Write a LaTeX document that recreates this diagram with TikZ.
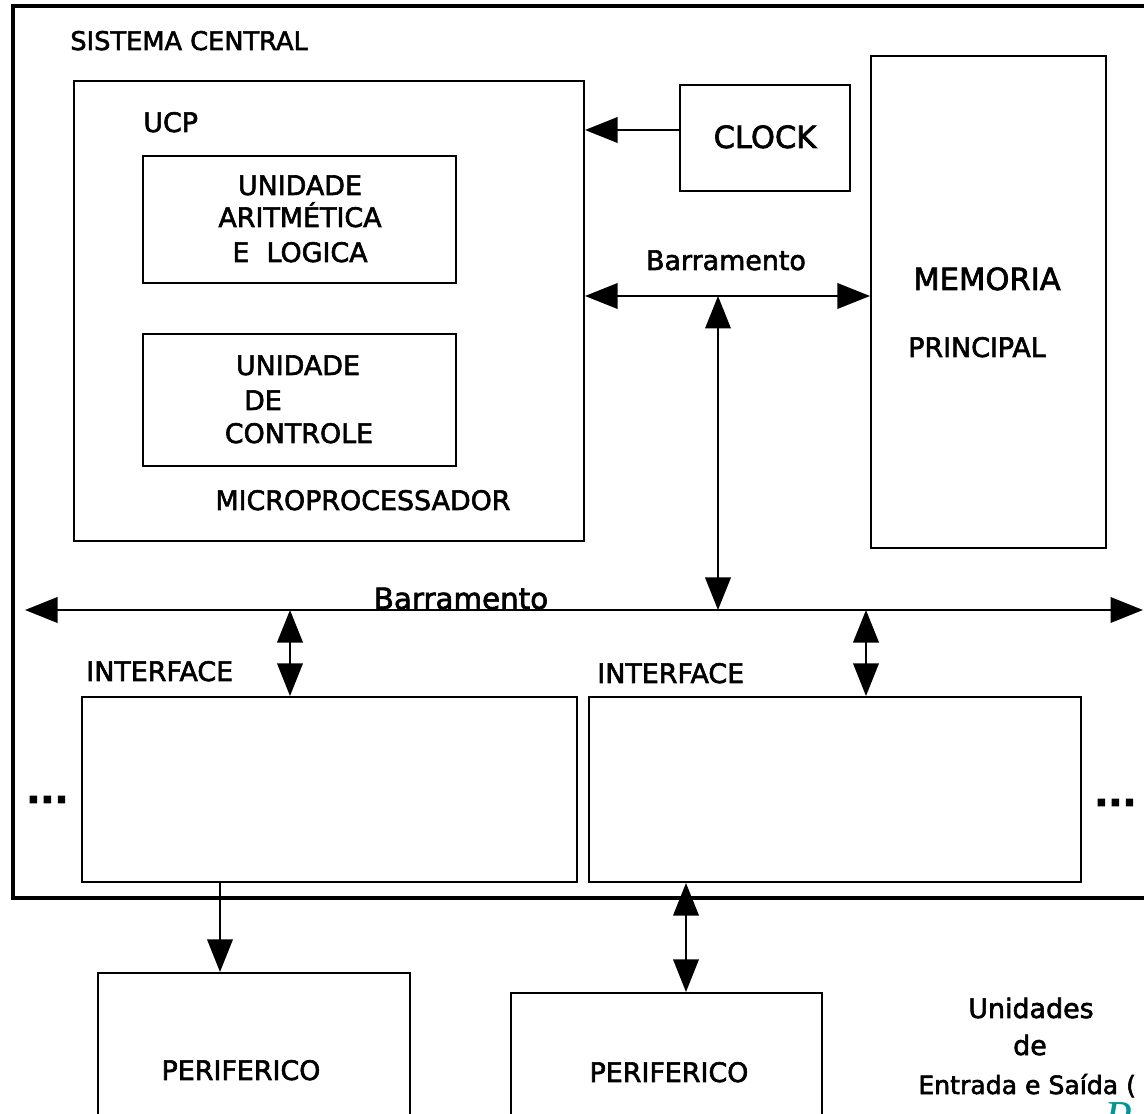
\documentclass[tikz,border=0pt]{standalone}
\usepackage{fontspec}
\setmainfont{DejaVu Sans}[FakeBold=2.2]
\newfontfamily\serifitalic{Liberation Serif}
\usetikzlibrary{arrows.meta,fit}
\definecolor{signteal}{RGB}{0,150,150}
\begin{document}
\begin{tikzpicture}[x=0.02cm,y=-0.02cm,
  box/.style={draw,line width=1.2pt,inner sep=0pt},
  lbl/.style={anchor=base,inner sep=0pt,font=\fontsize{15.3pt}{18pt}\selectfont},
  lblw/.style={lbl,anchor=base west},
  big/.style={lbl,font=\fontsize{17.4pt}{20pt}\selectfont},
  wire/.style={line width=1.2pt},
  dots/.style={anchor=base west,inner sep=0pt,font=\bfseries\fontsize{21pt}{21pt}\selectfont},
  >={Triangle[length=18.5pt,width=14.5pt]}]
\clip (0,0) rectangle (1144,1114);
\fill[white] (0,0) rectangle (1144,1114);

% central system frame (its right side runs off the page)
\node[draw,line width=2.4pt,inner sep=0pt,fit={(13,6) (1200,898)}] (sys) {};
\node[lblw,font=\fontsize{14.6pt}{18pt}\selectfont] (tsys) at (70,50) {SISTEMA CENTRAL};

% processor
\node[box,fit={(74,81) (584,541)}] (ucp) {};
\node[lblw] (tucp) at (143,132) {UCP};
\node[box,fit={(143,156) (456,283)}] (alu) {};
\node[lbl] (talu1) at (300,195) {UNIDADE};
\node[lbl] (talu2) at (300,227) {ARITMÉTICA};
\node[lbl] (talu3) at (300,262) {E\ \ LOGICA};
\node[box,fit={(143,334) (456,466)}] (cu) {};
\node[lbl] (tcu1) at (298,375) {UNIDADE};
\node[lbl] (tcu2) at (263,410) {DE};
\node[lbl] (tcu3) at (299,443) {CONTROLE};
\node[lbl] (tmicro) at (363,510) {MICROPROCESSADOR};

% clock and main memory
\node[box,fit={(680,85) (850,191)}] (clock) {};
\node[big] (tclock) at (765,148) {CLOCK};
\node[box,fit={(871,56) (1106,548)}] (mem) {};
\node[big] (tmem1) at (987,290) {MEMORIA};
\node[lbl] (tmem2) at (977,357) {PRINCIPAL};
\node[lbl] (tbus1) at (726,270) {Barramento};

% interfaces
\node[box,fit={(82,697) (577,882)}] (if1) {};
\node[box,fit={(589,697) (1081,882)}] (if2) {};
\node[lblw] (tif1) at (86,681) {INTERFACE};
\node[lblw] (tif2) at (597,683) {INTERFACE};
\node[dots] (dl) at (26,803) {...};
\node[dots] (dr) at (1094,806) {...};

% system bus
\coordinate (busL) at (25,610);
\coordinate (busR) at (1143,610);
\draw[wire,<->] (busL) -- (busR);
\node[lbl,font=\fontsize{16.7pt}{18pt}\selectfont] (tbus2) at (461,609) {Barramento};

% peripherals (bottoms run off the page)
\node[box,fit={(98,973) (410,1200)}] (p1) {};
\node[box,fit={(511,993) (822,1200)}] (p2) {};
\node[lbl] (tp1) at (241,1080) {PERIFERICO};
\node[lbl] (tp2) at (669,1082) {PERIFERICO};
\node[lbl] (tes1) at (1031,1018) {Unidades};
\node[lbl] (tes2) at (1030,1055) {de};
\node[lblw,font=\fontsize{14.3pt}{18pt}\selectfont] (tes3) at (918,1094) {Entrada e Saída (};
\node[anchor=north west,inner sep=0pt,text=signteal,
      font=\serifitalic\itshape\fontsize{26pt}{26pt}\selectfont] (sig) at (1104,1102) {P};

% connectors
\coordinate (ck) at (0,130);
\draw[wire,->] (clock.west |- ck) -- (ucp.east |- ck);
\coordinate (b1) at (0,296);
\draw[wire,<->] (ucp.east |- b1) -- (mem.west |- b1);
\coordinate (j1) at (718,296);
\coordinate (j2) at (718,610);
\draw[wire,<->] (j1) -- (j2);
\coordinate (t1) at (290,610);
\draw[wire,<->] (t1) -- (t1 |- if1.north);
\coordinate (t2) at (866,610);
\draw[wire,<->] (t2) -- (t2 |- if2.north);
\coordinate (d1) at (220,0);
\draw[wire,->] (d1 |- if1.south) -- (d1 |- p1.north);
\coordinate (d2) at (686,0);
\draw[wire,<->] (d2 |- if2.south) -- (d2 |- p2.north);
\end{tikzpicture}
\end{document}
